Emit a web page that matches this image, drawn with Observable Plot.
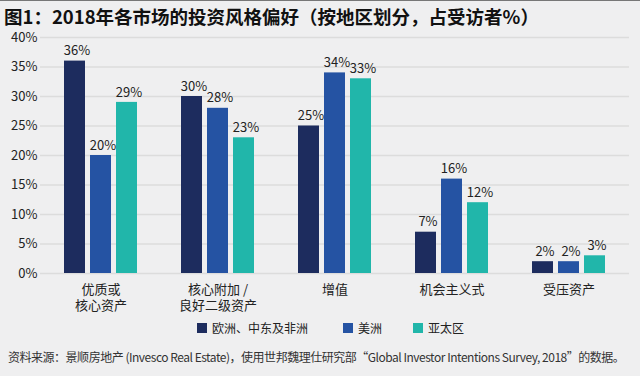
<!DOCTYPE html>
<html><head><meta charset="utf-8">
<script src="https://cdn.jsdelivr.net/npm/d3@7"></script>
<script src="https://cdn.jsdelivr.net/npm/@observablehq/plot@0.6"></script>
<style>
html,body{margin:0;padding:0;background:#efeff0;width:640px;height:376px;overflow:hidden;font-family:"Noto Sans CJK SC","Noto Sans",sans-serif;}
#topline{position:absolute;left:0;top:0;width:640px;height:1px;background:#777;}
#title{position:absolute;left:4px;top:5px;font-size:18.5px;line-height:22px;font-weight:bold;color:#111;white-space:nowrap;}
#chart{position:absolute;left:0;top:26px;}
#legend{position:absolute;left:0;top:319px;width:640px;height:18px;font-size:12px;color:#222;}
#legend .item{position:absolute;top:0;display:flex;align-items:center;white-space:nowrap;}
#legend .sw{width:10px;height:10px;margin-right:5px;}
#caption{position:absolute;left:8px;top:348px;font-size:12px;letter-spacing:-0.48px;color:#333;white-space:nowrap;}
</style></head>
<body>
<div id="topline"></div>
<div id="title"></div>
<div id="chart"></div>
<div id="legend"></div>
<div id="caption"></div>
<script>
const title = "图1：2018年各市场的投资风格偏好（按地区划分，占受访者%）";
const caption = "资料来源：景顺房地产 (Invesco Real Estate)，使用世邦魏理仕研究部“Global Investor Intentions Survey, 2018”的数据。";
const categories = ["优质或\n核心资产", "核心附加 /\n良好二级资产", "增值", "机会主义式", "受压资产"];
const regions = ["欧洲、中东及非洲", "美洲", "亚太区"];
const emea = [36, 30, 25, 7, 2];
const americas = [20, 28, 34, 16, 2];
const apac = [29, 23, 33, 12, 3];
const yTicks = [0, 5, 10, 15, 20, 25, 30, 35, 40];
const colors = ["#1d2c5e", "#2553a3", "#21b6aa"];

document.getElementById("title").textContent = title;
document.getElementById("caption").textContent = caption;

const series = [emea, americas, apac];
const offsets = [-26, 0, 26];
const marks = [
  Plot.ruleY(yTicks, {stroke: "#dcdcdc", strokeWidth: 1.5})
];
series.forEach((vals, i) => {
  const rows = categories.map((c, j) => ({category: c, region: regions[i], value: vals[j]}));
  marks.push(Plot.barY(rows, {x: "category", y: "value", fill: colors[i], dx: offsets[i], insetLeft: 48, insetRight: 48}));
  marks.push(Plot.text(rows, {x: "category", y: "value", text: d => d.value + "%", dx: offsets[i] + 2, dy: -10, fontSize: 13, fill: "#222"}));
});

const chart = Plot.plot({
  width: 640,
  height: 289,
  marginTop: 11,
  marginBottom: 42,
  marginLeft: 40,
  marginRight: 11,
  style: {background: "transparent", fontFamily: "'Noto Sans CJK SC', 'Noto Sans', sans-serif", fontSize: "13px", color: "#222"},
  x: {domain: categories, padding: 0, axis: null},
  y: {domain: [0, 40], ticks: yTicks, tickFormat: d => d + "%", tickSize: 0, tickPadding: 3, label: null},
  marks: [
    ...marks,
    Plot.axisX({tickSize: 0, tickPadding: 9, fontSize: 13, lineHeight: 1.25, label: null})
  ]
});
document.getElementById("chart").appendChild(chart);

const legend = document.getElementById("legend");
const legendLeft = [197, 343, 413];
regions.forEach((r, i) => {
  const it = document.createElement("div");
  it.className = "item";
  it.style.left = legendLeft[i] + "px";
  const sw = document.createElement("div");
  sw.className = "sw";
  sw.style.background = colors[i];
  const t = document.createElement("span");
  t.textContent = r;
  it.appendChild(sw); it.appendChild(t);
  legend.appendChild(it);
});
</script>
</body></html>
